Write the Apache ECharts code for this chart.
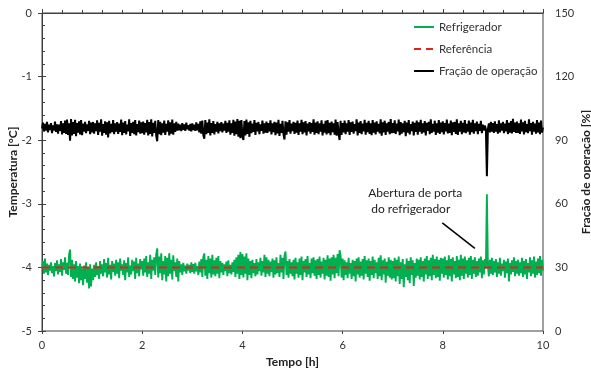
<!DOCTYPE html>
<html>
<head>
<meta charset="utf-8">
<script src="https://cdn.jsdelivr.net/npm/echarts@6/dist/echarts.min.js"></script>
<style>
html,body{margin:0;padding:0;background:#fff;}
#chart{width:591px;height:371px;}
</style>
</head>
<body>
<div id="chart"></div>
<script>
// Time step of the logged samples (hours); samples run 0..10 h
const sampleStepHours = 0.02;

// Refrigerador temperature [°C], one value per sample
const refrigerador = [
-4.02,-3.90,-4.10,-3.86,-4.08,-3.94,-4.12,-3.96,-4.05,-3.92,-4.09,-3.98,-4.14,-3.93,-4.06,-3.89,-4.11,-3.95,-4.07,-3.87,-4.13,-3.92,-4.04,-3.84,-4.10,
-3.93,-4.12,-3.80,-3.72,-4.15,-3.88,-4.18,-3.95,-4.22,-3.90,-4.16,-3.98,-4.25,-3.94,-4.20,-4.02,-4.28,-3.97,-4.18,-3.92,-4.24,-4.00,-4.33,-3.95,-4.30,
-4.02,-4.20,-3.96,-4.15,-3.92,-4.12,-3.98,-4.18,-3.90,-4.10,-3.95,-4.14,-3.87,-4.08,-3.93,-4.16,-3.85,-4.11,-3.96,-4.19,-3.90,-4.07,-3.94,-4.13,-3.88,
-4.10,-3.92,-4.17,-3.86,-4.05,-3.95,-4.12,-3.89,-4.20,-3.93,-4.08,-3.84,-4.15,-3.97,-4.11,-3.88,-4.06,-3.91,-4.18,-3.85,-4.09,-3.94,-4.14,-3.87,-4.03,
-3.90,-4.13,-3.86,-4.08,-3.82,-4.15,-3.92,-4.10,-3.80,-4.18,-3.88,-4.05,-3.84,-4.12,-3.79,-3.70,-4.16,-3.83,-4.09,-3.78,-4.20,-3.90,-4.11,-3.82,-4.22,
-3.85,-4.14,-3.78,-4.10,-3.88,-4.19,-3.81,-4.06,-3.92,-4.15,-3.86,-4.22,-3.90,-4.08,-3.95,-4.12,-3.93,-4.06,-3.97,-4.10,-3.94,-4.05,-3.96,-4.09,-3.92,
-4.07,-3.95,-4.10,-3.93,-4.06,-3.98,-4.12,-3.91,-4.08,-3.87,-4.15,-3.84,-3.78,-4.13,-3.88,-4.18,-3.82,-4.09,-3.86,-4.16,-3.80,-4.11,-3.89,-4.14,-3.85,
-4.10,-3.82,-4.17,-3.90,-4.08,-3.93,-4.12,-3.95,-4.06,-3.91,-4.14,-3.89,-4.09,-3.96,-4.11,-3.92,-4.07,-3.88,-4.15,-3.84,-4.10,-3.80,-4.18,-3.76,-4.12,
-3.79,-4.16,-3.83,-4.10,-3.78,-4.20,-3.86,-4.12,-3.90,-4.17,-3.88,-4.09,-3.93,-4.14,-3.87,-4.11,-3.92,-4.06,-3.85,-4.13,-3.90,-4.08,-3.80,-4.15,-3.84,
-4.10,-3.88,-4.14,-3.91,-4.07,-3.86,-4.16,-3.89,-4.11,-3.84,-4.09,-3.93,-4.15,-3.80,-4.08,-3.85,-4.18,-3.82,-3.75,-4.12,-3.90,-4.16,-3.87,-4.10,-3.92,
-4.14,-3.88,-4.19,-3.85,-4.10,-3.92,-4.16,-3.86,-4.12,-3.83,-4.20,-3.90,-4.08,-3.87,-4.15,-3.82,-4.11,-3.93,-4.17,-3.86,-4.09,-3.84,-4.13,-3.89,-4.18,
-3.87,-4.12,-3.83,-4.16,-3.91,-4.10,-3.85,-4.19,-3.88,-4.13,-3.81,-4.15,-3.86,-4.21,-3.84,-4.11,-3.80,-4.17,-3.85,-4.09,-3.79,-4.14,-3.73,-3.82,-4.16,
-3.86,-4.20,-3.89,-4.12,-3.92,-4.17,-3.85,-4.10,-3.93,-4.18,-3.88,-4.14,-3.90,-4.22,-3.86,-4.11,-3.84,-4.16,-3.91,-4.13,-3.87,-4.19,-3.82,-4.10,-3.89,
-4.15,-3.86,-4.21,-3.90,-4.12,-3.83,-4.17,-3.88,-4.09,-3.92,-4.18,-3.85,-4.14,-3.81,-4.20,-3.89,-4.11,-3.86,-4.24,-3.91,-4.13,-3.84,-4.16,-3.88,-4.19,
-3.90,-4.17,-3.85,-4.22,-3.88,-4.14,-3.83,-4.26,-3.92,-4.18,-3.87,-4.31,-3.95,-4.15,-3.86,-4.20,-3.90,-4.25,-3.84,-4.12,-3.89,-4.29,-3.93,-4.16,-3.86,
-4.13,-3.88,-4.19,-3.84,-4.15,-3.90,-4.22,-3.86,-4.11,-3.82,-4.18,-3.89,-4.14,-3.85,-4.20,-3.80,-4.12,-3.87,-4.17,-3.83,-4.15,-3.88,-4.21,-3.85,-4.10,
-3.86,-4.16,-3.83,-4.12,-3.89,-4.19,-3.81,-4.14,-3.87,-4.22,-3.84,-4.11,-3.90,-4.17,-3.82,-4.15,-3.88,-4.20,-3.80,-4.13,-3.86,-4.18,-3.83,-4.10,-3.89,
-4.16,-3.85,-4.12,-3.82,-4.18,-3.88,-4.10,-3.84,-4.15,-3.90,-4.13,-3.86,-4.08,-3.83,-4.17,-3.89,-4.11,-3.87,-4.02,-2.85,-3.98,-4.14,-3.88,-4.10,-3.85,
-4.12,-3.90,-4.08,-3.87,-4.15,-3.92,-4.10,-3.85,-4.13,-3.94,-4.06,-3.88,-4.16,-3.91,-4.09,-3.86,-4.22,-3.93,-4.11,-3.89,-4.07,-3.84,-4.14,-3.90,-4.10,
-3.88,-4.13,-3.92,-4.09,-3.85,-4.15,-3.90,-4.11,-3.87,-4.18,-3.93,-4.08,-3.84,-4.14,-3.89,-4.10,-3.83,-4.16,-3.91,-4.12,-3.86,-4.09,-3.82,-4.13,-3.88,
-4.05
];

// Referência set-point [°C] at the start and end of the run
const referenciaTimes = [0, 10];
const referencia = [-4, -4];

// Fração de operação [%], one value per sample
const fracaoOperacao = [
95.5,98.3,94.1,97.7,94.5,98.6,93.7,97.4,94.8,98.1,93.3,97.0,94.6,98.8,93.9,97.5,93.1,97.3,94.4,99.0,92.7,97.9,93.5,99.3,93.0,
99.7,92.5,98.0,89.8,100.0,92.3,98.5,93.0,99.6,91.9,98.1,93.6,98.9,92.7,99.5,92.4,97.8,94.1,98.7,93.3,97.5,94.4,99.1,92.9,98.3,
93.7,98.6,93.1,97.9,94.3,99.4,92.5,98.2,94.0,99.8,92.1,97.6,93.5,98.9,92.6,98.4,91.3,99.1,93.2,97.7,93.8,99.5,92.8,98.0,94.1,
98.5,93.0,97.8,93.9,99.7,92.4,98.3,93.4,99.0,92.7,97.4,94.2,99.9,92.0,98.1,93.5,98.7,92.9,99.5,92.2,97.6,93.8,99.2,93.1,98.4,
93.3,98.8,92.6,98.1,93.7,99.6,92.3,98.5,93.0,99.9,91.8,98.2,93.4,99.1,92.1,89.5,99.5,92.8,98.7,92.4,98.0,93.6,99.3,92.5,97.7,
94.1,99.4,92.2,98.4,93.1,99.7,92.6,97.9,93.9,98.6,94.5,97.8,94.7,97.3,94.3,98.0,94.9,97.4,94.4,98.3,95.1,97.1,94.6,97.7,94.2,
97.9,94.8,97.3,94.4,98.4,94.6,97.7,93.7,98.9,93.1,99.3,92.4,90.7,99.5,92.9,98.3,93.5,99.8,92.3,98.1,93.4,99.0,92.7,97.6,94.0,
98.7,93.2,98.0,94.3,98.5,93.7,97.8,94.5,99.1,93.4,98.2,94.0,99.4,92.6,97.9,93.5,99.6,92.1,98.8,92.9,100.0,91.7,99.2,91.0,99.5,
91.9,90.1,99.0,92.3,99.7,93.0,98.4,91.6,99.1,93.3,97.8,93.9,99.5,92.5,98.2,94.1,98.6,92.8,97.5,94.4,99.3,93.1,98.0,93.6,98.8,
93.4,98.1,94.2,99.4,92.7,97.9,93.8,98.7,92.4,98.3,93.2,99.6,92.0,97.7,93.5,99.1,92.9,90.3,98.9,92.6,98.4,94.0,99.5,93.1,97.8,
94.3,98.7,93.0,98.2,93.6,99.3,92.5,97.9,94.1,99.6,92.8,98.4,93.7,99.0,92.3,97.8,94.2,98.5,93.1,98.1,93.9,99.8,92.6,98.3,93.5,
98.9,92.9,98.0,94.0,99.4,92.2,97.7,93.6,99.1,92.7,99.5,93.3,98.2,92.4,98.8,93.8,97.9,92.6,99.7,92.1,98.6,93.0,90.1,99.2,92.5,
98.1,93.7,99.3,92.8,97.9,94.1,99.5,92.5,98.4,93.9,98.8,93.1,97.6,94.3,99.9,92.3,98.3,93.5,99.0,92.9,97.8,94.2,99.6,92.6,98.2,
93.8,99.1,93.0,98.0,92.4,99.5,93.6,98.3,92.7,98.9,94.1,97.7,93.2,99.8,92.1,98.4,93.7,99.2,92.5,97.9,94.0,98.6,92.8,100.0,93.3,
98.1,93.5,99.4,92.9,97.8,94.2,99.7,92.4,98.5,93.1,98.0,93.8,99.1,91.9,98.3,93.6,99.5,92.7,97.6,94.3,98.8,92.2,98.2,93.9,99.3,
92.6,98.4,94.0,99.6,93.1,97.9,93.7,99.0,92.3,98.2,94.4,98.7,92.8,99.9,93.4,97.7,94.1,99.2,92.5,98.0,93.6,99.5,93.0,98.3,93.8,
98.9,92.7,98.1,94.2,99.7,93.2,97.8,93.5,99.3,92.4,98.4,93.9,98.6,93.0,99.8,92.5,97.9,94.1,99.1,92.8,98.2,93.7,99.5,93.3,97.7,
94.0,99.2,92.6,98.3,93.8,99.6,93.1,98.0,94.3,98.8,92.9,97.7,94.4,99.1,93.3,97.3,94.5,96.9,95.1,73.0,95.3,97.9,93.7,98.6,94.1,
98.1,93.4,98.9,94.0,97.6,93.1,99.4,93.7,98.0,94.5,98.7,93.3,97.8,94.2,99.5,92.9,98.2,93.6,99.0,93.2,100.1,93.9,98.3,93.4,98.8,
93.5,98.0,93.0,99.7,94.1,98.4,92.7,99.1,93.8,97.6,93.3,99.9,94.3,98.1,92.6,98.7,94.0,97.8,93.1,99.5,93.7,98.3,92.9,99.2,93.6,
96.0
];

// Axis tick settings (values)
const xTicks = { min: 0, max: 10, interval: 2 };
const yLeftTicks = { min: -5, max: 0, interval: 1 };
const yRightTicks = { min: 0, max: 150, interval: 30 };

// Annotation anchor (data coordinates)
const annotationText = 'Abertura de porta\n do refrigerador';
const annotationAt = [6.51, -2.955];
const arrowFrom = [7.99, -3.30];
const arrowTo = [8.64, -3.70];

const times = refrigerador.map((_, i) => +(i * sampleStepHours).toFixed(2));
const greenData = refrigerador.map((v, i) => [times[i], v]);
const blackData = fracaoOperacao.map((v, i) => [times[i], v]);
const refData = referencia.map((v, i) => [referenciaTimes[i], v]);

const FONT = 'Lato';
const AX = '#404040';
const TXT = '#333333';
const GREEN = '#00B050';
const RED = '#D9261C';

const chart = echarts.init(document.getElementById('chart'), null, { renderer: 'canvas' });
chart.setOption({
  animation: false,
  backgroundColor: '#ffffff',
  textStyle: { fontFamily: FONT },
  grid: {
    left: 42, right: 48, top: 13, bottom: 40,
    containLabel: false, outerBoundsMode: 'none',
    show: true, borderColor: AX, borderWidth: 1, backgroundColor: 'transparent'
  },
  legend: {
    orient: 'vertical',
    left: 413,
    top: 21,
    padding: 0,
    itemWidth: 20,
    itemHeight: 14,
    itemGap: 10,
    itemStyle: { color: 'transparent', borderColor: 'transparent', borderWidth: 0, opacity: 0 },
    textStyle: { fontFamily: FONT, fontSize: 11.5, color: TXT },
    data: [
      { name: 'Refrigerador', lineStyle: { color: GREEN, width: 2, type: 'solid' } },
      { name: 'Referência', lineStyle: { color: RED, width: 2, type: [7, 5] } },
      { name: 'Fração de operação', lineStyle: { color: '#000', width: 2, type: 'solid' } }
    ]
  },
  xAxis: [
    {
      type: 'value', min: xTicks.min, max: xTicks.max, interval: xTicks.interval, position: 'bottom',
      name: 'Tempo [h]', nameLocation: 'middle', nameGap: 25, nameMoveOverlap: false,
      nameTextStyle: { fontFamily: FONT, fontSize: 12, fontWeight: 'bold', color: '#222' },
      axisLine: { show: true, lineStyle: { color: AX, width: 1 } },
      axisTick: { show: true, inside: true, length: 4, lineStyle: { color: AX } },
      minorTick: { show: true, splitNumber: 5, length: 3, lineStyle: { color: AX } },
      axisLabel: { margin: 9, fontFamily: FONT, fontSize: 11, color: TXT },
      splitLine: { show: false }
    },
    {
      type: 'value', min: xTicks.min, max: xTicks.max, interval: xTicks.interval, position: 'bottom', offset: 0,
      axisLine: { show: false },
      axisTick: { show: true, inside: false, length: 3, lineStyle: { color: AX } },
      axisLabel: { show: false },
      splitLine: { show: false }
    }
  ],
  yAxis: [
    {
      type: 'value', min: yLeftTicks.min, max: yLeftTicks.max, interval: yLeftTicks.interval, position: 'left',
      name: 'Temperatura [°C]', nameLocation: 'middle', nameGap: 23, nameRotate: 90, nameMoveOverlap: false,
      nameTextStyle: { fontFamily: FONT, fontSize: 12, fontWeight: 'bold', color: '#222' },
      axisLine: { show: true, lineStyle: { color: AX, width: 1 } },
      axisTick: { show: true, inside: true, length: 3, lineStyle: { color: AX } },
      minorTick: { show: true, splitNumber: 5, length: 3, lineStyle: { color: AX } },
      axisLabel: { margin: 10, fontFamily: FONT, fontSize: 11, color: TXT },
      splitLine: { show: false }
    },
    {
      type: 'value', min: yRightTicks.min, max: yRightTicks.max, interval: yRightTicks.interval, position: 'right',
      name: 'Fração de operação [%]', nameLocation: 'middle', nameGap: 37, nameRotate: 90, nameMoveOverlap: false,
      nameTextStyle: { fontFamily: FONT, fontSize: 12, fontWeight: 'bold', color: '#222' },
      axisLine: { show: true, lineStyle: { color: AX, width: 1 } },
      axisTick: { show: true, inside: false, length: 4, lineStyle: { color: AX } },
      axisLabel: { margin: 12, fontFamily: FONT, fontSize: 11, color: TXT },
      splitLine: { show: false }
    },
    {
      type: 'value', min: yLeftTicks.min, max: yLeftTicks.max, interval: yLeftTicks.interval, position: 'left', offset: 0,
      axisLine: { show: false },
      axisTick: { show: true, inside: false, length: 4, lineStyle: { color: AX } },
      axisLabel: { show: false },
      splitLine: { show: false }
    }
  ],
  series: [
    {
      name: 'Refrigerador', type: 'line', xAxisIndex: 0, yAxisIndex: 0,
      data: greenData, showSymbol: false, symbol: 'none', z: 3,
      color: GREEN,
      lineStyle: { color: GREEN, width: 1.9 },
      markLine: {
        silent: true, symbol: ['none', 'arrow'], symbolSize: [0, 9],
        lineStyle: { color: '#000', width: 1.5, type: 'solid' },
        label: { show: false },
        data: [[{ coord: arrowFrom }, { coord: arrowTo }]]
      },
      markPoint: {
        silent: true, symbol: 'circle', symbolSize: 0.01,
        label: {
          show: true, position: 'right', distance: 0, align: 'left',
          formatter: annotationText, fontFamily: FONT, fontSize: 12, lineHeight: 16, color: '#222'
        },
        data: [{ coord: annotationAt }]
      }
    },
    {
      name: 'Referência', type: 'line', xAxisIndex: 0, yAxisIndex: 0,
      data: refData, showSymbol: false, symbol: 'none', z: 4,
      color: RED,
      lineStyle: { color: RED, width: 2, type: [8, 5] }
    },
    {
      name: 'Fração de operação', type: 'line', xAxisIndex: 0, yAxisIndex: 1,
      data: blackData, showSymbol: false, symbol: 'none', z: 3,
      color: '#000000',
      lineStyle: { color: '#000000', width: 2 }
    }
  ]
});
</script>
</body>
</html>
